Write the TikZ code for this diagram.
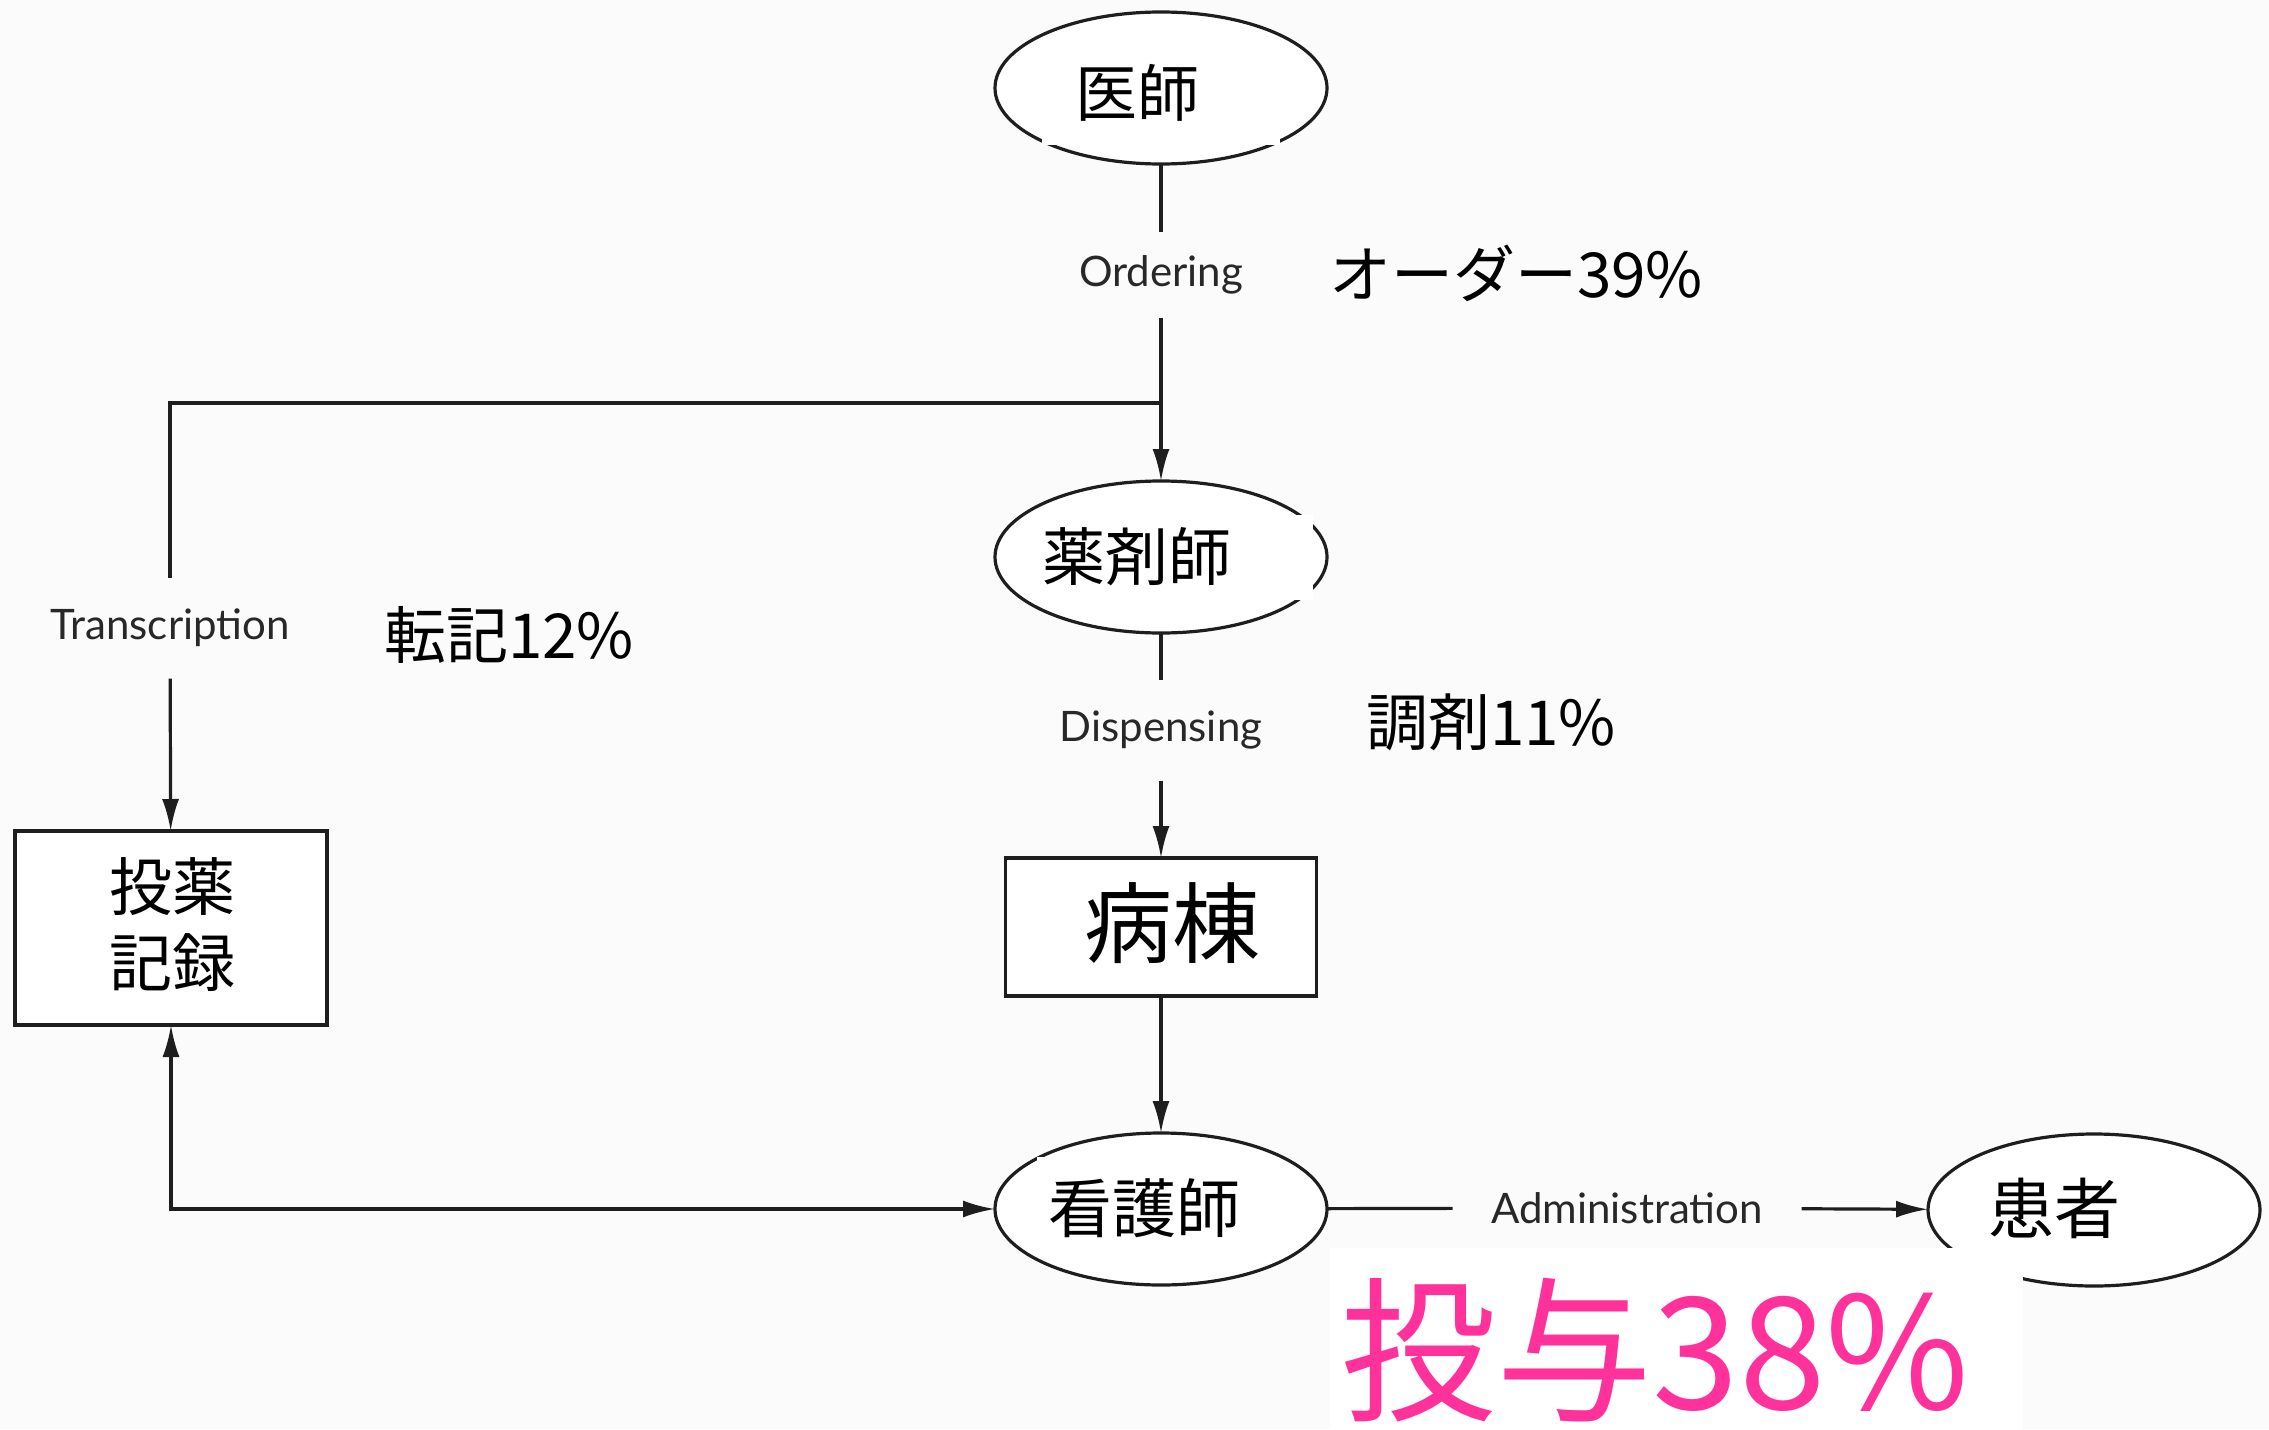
\documentclass[tikz,border=0pt]{standalone}
\usepackage{fontspec}
\setmainfont{Noto Sans CJK JP}
\newfontfamily\lab{Lato}
\usetikzlibrary{arrows.meta,shapes.geometric}
\definecolor{bgc}{RGB}{251,251,251}
\definecolor{lc}{RGB}{30,30,30}
\definecolor{labc}{RGB}{40,40,40}
\definecolor{pinkc}{RGB}{255,50,155}
\begin{document}
\begin{tikzpicture}[x=0.5pt,y=-0.5pt,
  line/.style={draw=lc,line width=1.6pt},
  arr/.style={line,-{Latex[length=16pt,width=8.5pt]}},
  arrtwo/.style={line,{Latex[length=16pt,width=8.5pt]}-{Latex[length=16pt,width=8.5pt]}},
  oval/.style={ellipse,draw=lc,line width=1.6pt,fill=white,minimum width=166pt,minimum height=76pt,inner sep=0pt,outer sep=0pt},
  boxnode/.style={rectangle,draw=lc,line width=1.7pt,fill=white,inner sep=0pt,outer sep=0pt},
  jtext/.style={inner sep=0pt,text=black},
  flow/.style={font=\lab\fontsize{21}{25}\selectfont,text=labc,inner sep=0pt,outer sep=0pt},
  pct/.style={font=\fontsize{31}{36}\selectfont,text=black,inner sep=0pt}
]
\fill[bgc] (0,0) rectangle (2269,1429);
\useasboundingbox (0,0) rectangle (2269,1429);

% shapes
\node[oval] (doc) at (1161,88) {};
\node[oval] (pharm) at (1161,557) {};
\node[oval] (nurse) at (1161,1209) {};
\node[oval] (pat) at (2094,1210) {};
\node[boxnode,minimum width=156pt,minimum height=97pt] (rec) at (171,928) {};
\node[boxnode,minimum width=155.5pt,minimum height=69pt] (ward) at (1161,927) {};

% white text patches
\fill[white] (1042,43) rectangle (1280,145);
\fill[white] (1032,515) rectangle (1313,600);
\fill[white] (1037,1157) rectangle (1270,1257);
\fill[white] (1330,1248) rectangle (2023,1429);

% node texts
\node[jtext,font=\fontsize{31}{36}\selectfont] (docT) at (1137,93) {医師};
\node[jtext,font=\fontsize{31.5}{36}\selectfont] (pharmT) at (1137,557) {薬剤師};
\node[jtext,font=\fontsize{32}{36}\selectfont] (nurseT) at (1144,1208) {看護師};
\node[jtext,font=\fontsize{33}{38}\selectfont] (patT) at (2054,1208) {患者};
\node[jtext,font=\fontsize{31.5}{38}\selectfont,align=center] (recT) at (172,925) {投薬\\記録};
\node[jtext,font=\fontsize{44}{50}\selectfont] (wardT) at (1172,923) {病棟};

% flow labels
\node[flow,minimum height=43pt] (ord) at (1161,275) {Ordering};
\node[flow,minimum height=50.5pt] (trans) at (170,628) {Transcription};
\node[flow,minimum height=50.5pt] (disp) at (1161,730) {Dispensing};
\node[flow,minimum width=174.5pt] (adm) at (1627,1208) {Administration};
\coordinate (J) at (1161,403);

% connectors
\draw[line] (doc) -- (ord);
\draw[arr] (ord) -- (pharm);
\draw[line] (J) -| (trans);
\draw[arr] (trans) -- (rec);
\draw[line] (pharm) -- (disp);
\draw[arr] (disp) -- (ward);
\draw[arr] (ward) -- (nurse);
\draw[arrtwo] (rec.south) |- (nurse.west);
\draw[line] (nurse) -- (adm);
\draw[arr] (adm) -- (pat);

% percentages
\node[pct] (oPct) at (1516,273) {オーダー39\%};
\node[pct] (tPct) at (509,635) {転記12\%};
\node[pct] (dPct) at (1491,722) {調剤11\%};
\node[jtext,font=\fontsize{78}{90}\selectfont,text=pinkc] (aPct) at (1655,1350) {投与38\%};
\end{tikzpicture}
\end{document}
